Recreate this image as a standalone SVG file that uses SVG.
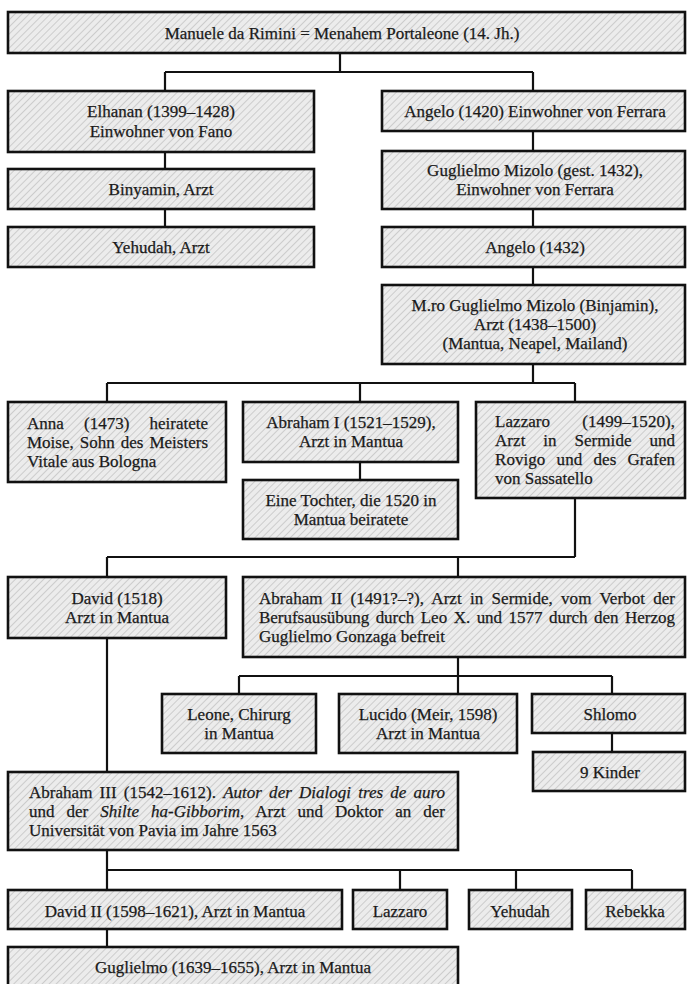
<svg xmlns="http://www.w3.org/2000/svg" width="687" height="984" viewBox="0 0 687 984">
<defs>
<pattern id="hatch" width="5" height="5" patternUnits="userSpaceOnUse" patternTransform="rotate(45)">
<rect width="5" height="5" fill="#ececec"/>
<line x1="0" y1="0" x2="0" y2="5" stroke="#c4c4c4" stroke-width="1.6"/>
</pattern>
<style>
.box{fill:url(#hatch);stroke:#111;stroke-width:2.6}
.t{font-family:"Liberation Serif","Times New Roman",serif;font-size:17px;fill:#1a1a1a;stroke:#1a1a1a;stroke-width:0.25}
.c{text-anchor:middle}
.i{font-style:italic}
.ln{fill:none;stroke:#111;stroke-width:2.2}
</style>
</defs>
<rect width="687" height="984" fill="#fff"/>
<g id="connectors" class="ln">
<path d="M340,53V72M165,72H533M165,72V91M533,72V91"/>
<path d="M165,152V169M165,209V227"/>
<path d="M533,131V151M533,209V227M533,267V285"/>
<path d="M533,364V383M107,383H575M107,383V402M360,383V402M575,383V402"/>
<path d="M360,462V480"/>
<path d="M575,498V557M107,557H575M107,557V577M458,557V577"/>
<path d="M458,657V694M239,676H612M239,676V694M612,676V694"/>
<path d="M612,733V752"/>
<path d="M107,638V772"/>
<path d="M107,850V890M107,870H632M400,870V890M516,870V890M632,870V890"/>
<path d="M107,929V947"/>
</g>
<g id="n-manuele"><rect class="box" x="8" y="12" width="677" height="41"/><text class="t c" x="342" y="39">Manuele da Rimini = Menahem Portaleone (14. Jh.)</text></g>
<g id="n-elhanan"><rect class="box" x="8" y="91" width="306" height="61"/><text class="t c" x="161" y="117">Elhanan (1399–1428)</text><text class="t c" x="161" y="137">Einwohner von Fano</text></g>
<g id="n-angelo1420"><rect class="box" x="382" y="91" width="303" height="40"/><text class="t c" x="535" y="117">Angelo (1420) Einwohner von Ferrara</text></g>
<g id="n-binyamin"><rect class="box" x="8" y="169" width="306" height="40"/><text class="t c" x="161" y="195">Binyamin, Arzt</text></g>
<g id="n-yehudah"><rect class="box" x="8" y="227" width="306" height="40"/><text class="t c" x="161" y="253">Yehudah, Arzt</text></g>
<g id="n-guglielmo-mizolo"><rect class="box" x="382" y="151" width="303" height="58"/><text class="t c" x="535" y="176">Guglielmo Mizolo (gest. 1432),</text><text class="t c" x="535" y="195">Einwohner von Ferrara</text></g>
<g id="n-angelo1432"><rect class="box" x="382" y="227" width="303" height="40"/><text class="t c" x="535" y="253">Angelo (1432)</text></g>
<g id="n-mro"><rect class="box" x="382" y="285" width="303" height="79"/><text class="t c" x="535" y="311">M.ro Guglielmo Mizolo (Binjamin),</text><text class="t c" x="535" y="330">Arzt (1438–1500)</text><text class="t c" x="535" y="349">(Mantua, Neapel, Mailand)</text></g>
<g id="n-anna"><rect class="box" x="8" y="402" width="218" height="80"/><text class="t" x="27" y="429" style="word-spacing:15.9px" textLength="181" lengthAdjust="spacing">Anna (1473) heiratete</text><text class="t" x="27" y="448" style="word-spacing:1.8px" textLength="181" lengthAdjust="spacing">Moise, Sohn des Meisters</text><text class="t" x="27" y="467">Vitale aus Bologna</text></g>
<g id="n-abraham1"><rect class="box" x="243" y="402" width="215" height="60"/><text class="t c" x="351" y="428">Abraham I (1521–1529),</text><text class="t c" x="351" y="447">Arzt in Mantua</text></g>
<g id="n-tochter"><rect class="box" x="243" y="480" width="215" height="59"/><text class="t c" x="351" y="506">Eine Tochter, die 1520 in</text><text class="t c" x="351" y="525">Mantua beiratete</text></g>
<g id="n-lazzaro"><rect class="box" x="476" y="402" width="209" height="96"/><text class="t" x="495" y="427" style="word-spacing:27.9px" textLength="180" lengthAdjust="spacing">Lazzaro (1499–1520),</text><text class="t" x="495" y="446" style="word-spacing:13.6px" textLength="180" lengthAdjust="spacing">Arzt in Sermide und</text><text class="t" x="495" y="465" style="word-spacing:6.9px" textLength="180" lengthAdjust="spacing">Rovigo und des Grafen</text><text class="t" x="495" y="484">von Sassatello</text></g>
<g id="n-david"><rect class="box" x="8" y="577" width="218" height="61"/><text class="t c" x="117" y="604">David (1518)</text><text class="t c" x="117" y="623">Arzt in Mantua</text></g>
<g id="n-abraham2"><rect class="box" x="243" y="577" width="442" height="80"/><text class="t" x="259" y="604" style="word-spacing:4px" textLength="416" lengthAdjust="spacing">Abraham II (1491?–?), Arzt in Sermide, vom Verbot der</text><text class="t" x="259" y="623" style="word-spacing:2.3px" textLength="416" lengthAdjust="spacing">Berufsausübung durch Leo X. und 1577 durch den Herzog</text><text class="t" x="259" y="642">Guglielmo Gonzaga befreit</text></g>
<g id="n-leone"><rect class="box" x="162" y="694" width="154" height="59"/><text class="t c" x="239" y="720">Leone, Chirurg</text><text class="t c" x="239" y="739">in Mantua</text></g>
<g id="n-lucido"><rect class="box" x="339" y="694" width="178" height="59"/><text class="t c" x="428" y="720">Lucido (Meir, 1598)</text><text class="t c" x="428" y="739">Arzt in Mantua</text></g>
<g id="n-shlomo"><rect class="box" x="532" y="694" width="153" height="39"/><text class="t c" x="610" y="719.5">Shlomo</text></g>
<g id="n-kinder"><rect class="box" x="533" y="752" width="152" height="39"/><text class="t c" x="610" y="777.5">9 Kinder</text></g>
<g id="n-abraham3"><rect class="box" x="8" y="772" width="450" height="78"/><text class="t" x="29" y="798" style="word-spacing:2.8px" textLength="416" lengthAdjust="spacing">Abraham III (1542–1612). <tspan class="i">Autor der Dialogi tres de auro</tspan></text><text class="t" x="29" y="817" style="word-spacing:7.7px" textLength="416" lengthAdjust="spacing">und der <tspan class="i">Shilte ha-Gibborim</tspan>, Arzt und Doktor an der</text><text class="t" x="29" y="836">Universität von Pavia im Jahre 1563</text></g>
<g id="n-david2"><rect class="box" x="8" y="890" width="334" height="39"/><text class="t c" x="175" y="916.5">David II (1598–1621), Arzt in Mantua</text></g>
<g id="n-lazzaro2"><rect class="box" x="353" y="890" width="94" height="39"/><text class="t c" x="400" y="916.5">Lazzaro</text></g>
<g id="n-yehudah2"><rect class="box" x="469" y="890" width="103" height="39"/><text class="t c" x="520" y="916.5">Yehudah</text></g>
<g id="n-rebekka"><rect class="box" x="586" y="890" width="99" height="39"/><text class="t c" x="635" y="916.5">Rebekka</text></g>
<g id="n-guglielmo"><rect class="box" x="8" y="947" width="450" height="43"/><text class="t c" x="233" y="973">Guglielmo (1639–1655), Arzt in Mantua</text></g>
</svg>
